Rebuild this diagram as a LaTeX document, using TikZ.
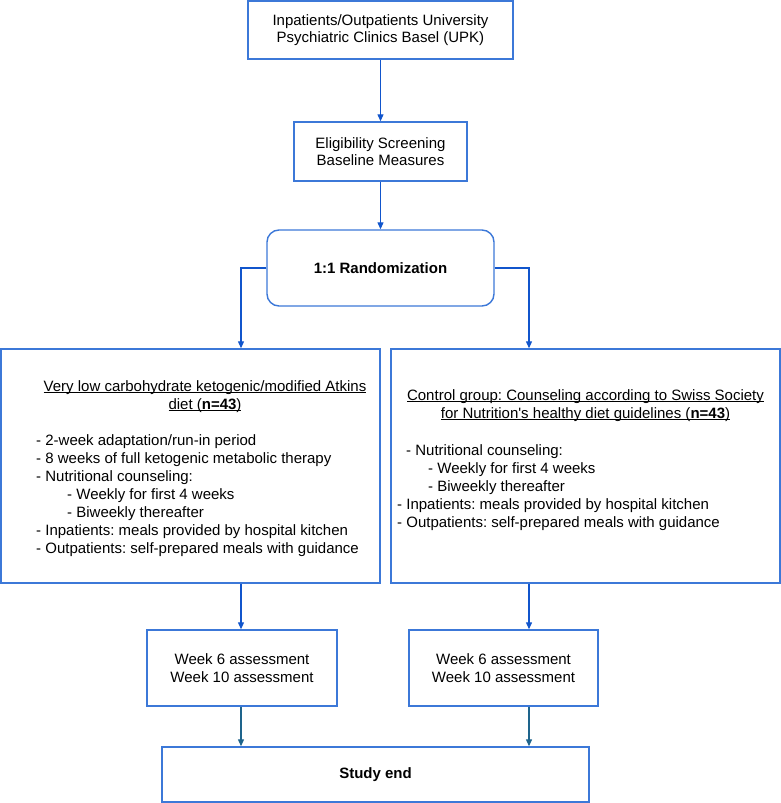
\documentclass[tikz,border=0pt]{standalone}
\usepackage{fontspec}
\setmainfont{Liberation Sans}
\definecolor{BoxBlue}{RGB}{60,120,216}
\definecolor{ArrBlue}{RGB}{17,85,204}
\definecolor{ArrTeal}{RGB}{30,100,140}
\usetikzlibrary{arrows.meta,positioning,calc}
\newcommand{\undl}[1]{\underline{\smash{#1}}}
\frenchspacing

\begin{document}
\begin{tikzpicture}[x=1pt, y=-1pt,
        box/.style={rectangle, draw=BoxBlue, line width=1.4pt, fill=white,
                    inner sep=0pt, align=center, font=\fontsize{15}{17.5}\selectfont},
        rbox/.style={box, rounded corners=12pt},
        txt/.style={inner sep=0pt, font=\fontsize{15}{18}\selectfont},
        arr/.style={-{Triangle[length=7pt,width=6pt]}, line width=1.2pt, ArrBlue},
        arrt/.style={arr, ArrTeal}
      ]
        \useasboundingbox (0,0) rectangle (781,803);
        \node[box, minimum width=265, minimum height=58] (src) at (380.5,30)
          {Inpatients/Outpatients University\\Psychiatric Clinics Basel (UPK)};
        \node[box, minimum width=173, minimum height=59] (elig) at (380.5,151.5)
          {Eligibility Screening\\Baseline Measures};
        \node[rbox, minimum width=227, minimum height=76] (rnd) at (380.5,268)
          {\textbf{1:1 Randomization}};
        \node[box, minimum width=379, minimum height=234] (kd) at (190.5,466) {};
        \node[box, minimum width=389, minimum height=234] (ctl) at (585.5,466) {};
        \node[box, minimum width=190, minimum height=76] (wka) at (242,668)
          {Week 6 assessment\\Week 10 assessment};
        \node[box, minimum width=189, minimum height=76] (wkb) at (503.5,668)
          {Week 6 assessment\\Week 10 assessment};
        \node[box, minimum width=427, minimum height=55] (fin) at (375.5,774.5)
          {\textbf{Study end}};
        % arm texts
        \node[txt, align=center, anchor=north] (kdhead) at (205,391)
          {\undl{Very low carbohydrate ketogenic/modified Atkins}\\
           \undl{diet (\textbf{n=43})}};
        \node[txt, align=left, anchor=north west] (kdlist) at (36,434)
          {- 2-week adaptation/run-in period\\
           - 8 weeks of full ketogenic metabolic therapy\\
           - Nutritional counseling:\\
           \hspace{31pt}- Weekly for first 4 weeks\\
           \hspace{31pt}- Biweekly thereafter\\
           - Inpatients: meals provided by hospital kitchen\\
           - Outpatients: self-prepared meals with guidance};
        \node[txt, align=center, anchor=north] (ctlhead) at (585.5,400)
          {\undl{Control group: Counseling according to Swiss Society}\\
           \undl{for Nutrition\textquotesingle s healthy diet guidelines (\textbf{n=43})}};
        \node[txt, align=left, anchor=north west] (ctllist) at (397,444)
          {\hspace{9pt}- Nutritional counseling:\\
           \hspace{31pt}- Weekly for first 4 weeks\\
           \hspace{31pt}- Biweekly thereafter\\
           - Inpatients: meals provided by hospital kitchen\\
           - Outpatients: self-prepared meals with guidance};
        % arm columns
        \coordinate (lc) at (241,0);
        \coordinate (rc) at (529,0);
        \draw[arr] (src) -- (elig);
        \draw[arr] (elig) -- (rnd);
        \draw[arr] (rnd.west) -| (lc |- kd.north);
        \draw[arr] (rnd.east) -| (rc |- ctl.north);
        \draw[arr] (lc |- kd.south) -- (lc |- wka.north);
        \draw[arr] (rc |- ctl.south) -- (rc |- wkb.north);
        \draw[arrt] (lc |- wka.south) -- (lc |- fin.north);
        \draw[arrt] (rc |- wkb.south) -- (rc |- fin.north);
      \end{tikzpicture}
\end{document}
